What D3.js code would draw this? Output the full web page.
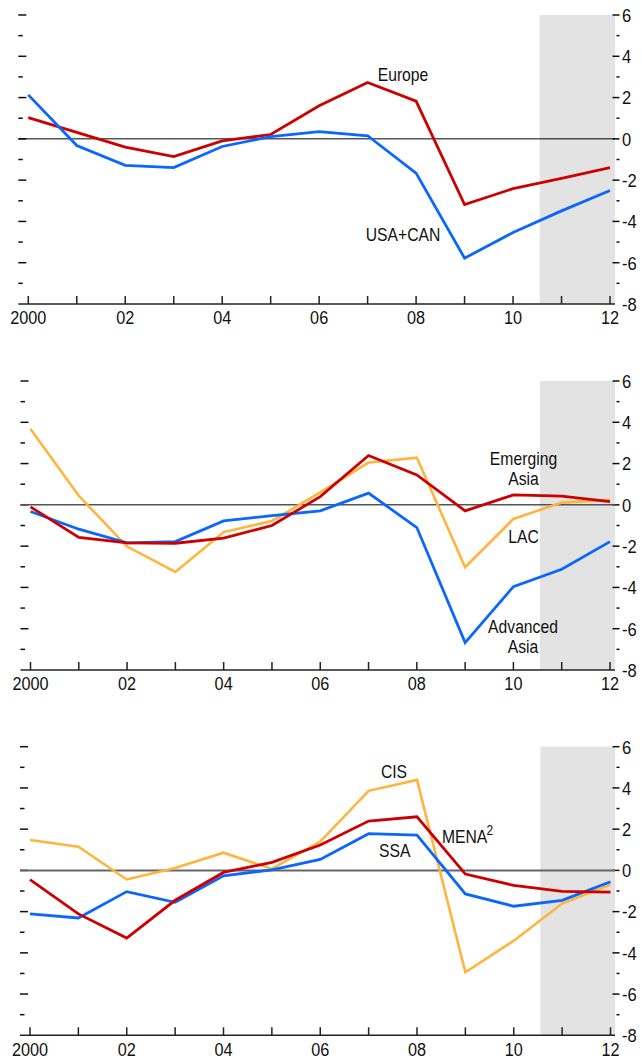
<!DOCTYPE html>
<html><head><meta charset="utf-8">
<script src="https://cdn.jsdelivr.net/npm/d3@7"></script>
<style>
html,body{margin:0;padding:0;background:#fff;}
svg{display:block;}
text{font-family:"Liberation Sans Narrow","Arial Narrow","Liberation Sans",Arial,sans-serif;fill:#111;}
</style></head>
<body>
<svg id="chart" width="642" height="1059"></svg>
<script>
const years = [2000,2001,2002,2003,2004,2005,2006,2007,2008,2009,2010,2011,2012];
const xTickLabels = ["2000","02","04","06","08","10","12"];
const yTickValues = [6,4,2,0,-2,-4,-6,-8];

// Panel 1
const europe = [1.03,0.31,-0.40,-0.86,-0.10,0.21,1.60,2.73,1.83,-3.18,-2.41,-1.92,-1.39];
const usaCan = [2.13,-0.32,-1.28,-1.39,-0.37,0.11,0.35,0.15,-1.66,-5.78,-4.54,-3.49,-2.50];
// Panel 2
const emergingAsia = [-0.10,-1.58,-1.84,-1.86,-1.61,-1.00,0.40,2.39,1.45,-0.29,0.48,0.42,0.16];
const lac = [3.68,0.44,-2.02,-3.25,-1.32,-0.78,0.60,2.05,2.29,-3.02,-0.68,0.11,0.24];
const advancedAsia = [-0.32,-1.18,-1.84,-1.78,-0.78,-0.52,-0.29,0.57,-1.10,-6.67,-3.96,-3.12,-1.78];
// Panel 3
const cis = [1.47,1.15,-0.44,0.12,0.86,0.07,1.40,3.86,4.39,-4.94,-3.41,-1.61,-0.69];
const mena = [-0.45,-2.11,-3.28,-1.45,-0.10,0.39,1.23,2.39,2.60,-0.18,-0.73,-1.02,-1.05];
const ssa = [-2.11,-2.31,-1.03,-1.55,-0.26,0.03,0.53,1.78,1.71,-1.14,-1.74,-1.45,-0.55];

const forecastStart = 2010.55;

const RED = "#CC0000", BLUE = "#0A66FF", ORANGE = "#FFB43C";

const panels = [
  { top: 15, bottom: 304, x0: 28.3, x1: 610, zeroColor: "#000", zeroWidth: 1,
    series: [ {v: europe, c: RED, w: 2.8}, {v: usaCan, c: BLUE, w: 2.8} ],
    labels: [
      {lines:["Europe"], x: 403, y: 81},
      {lines:["USA+CAN"], x: 403, y: 241}
    ]},
  { top: 381, bottom: 670, x0: 30.5, x1: 610, zeroColor: "#555", zeroWidth: 1.5,
    series: [ {v: lac, c: ORANGE, w: 2.6}, {v: advancedAsia, c: BLUE, w: 2.8}, {v: emergingAsia, c: RED, w: 2.8} ],
    labels: [
      {lines:["Emerging","Asia"], x: 523.5, y: 465},
      {lines:["LAC"], x: 523.5, y: 542.7},
      {lines:["Advanced","Asia"], x: 523, y: 633.3}
    ]},
  { top: 746.7, bottom: 1035.3, x0: 30, x1: 610.5, zeroColor: "#666", zeroWidth: 2,
    series: [ {v: cis, c: ORANGE, w: 2.6}, {v: ssa, c: BLUE, w: 2.8}, {v: mena, c: RED, w: 2.8} ],
    labels: [
      {lines:["CIS"], x: 394, y: 778.3},
      {lines:["SSA"], x: 394.7, y: 856.7},
      {lines:["MENA"], x: 467.5, y: 843.3, sup: "2"}
    ]}
];

const svg = d3.select("#chart");

// condensed text helper (horizontal squeeze of a regular sans face)
function ctext(sel, x, y, s, size, anchor) {
  return sel.append("text")
    .attr("transform", `translate(${x},${y}) scale(${s},1)`)
    .attr("text-anchor", anchor)
    .attr("font-size", size);
}

panels.forEach(p => {
  const x = d3.scaleLinear().domain([2000, 2012]).range([p.x0, p.x1]);
  const y = d3.scaleLinear().domain([-8, 6]).range([p.bottom, p.top]);
  const g = svg.append("g");
  const axisLeft = p.x0 - 10;
  const axisRight = 615;

  // forecast shading
  g.append("rect")
    .attr("x", x(forecastStart)).attr("y", y(6))
    .attr("width", axisRight - x(forecastStart)).attr("height", y(-8) - y(6))
    .attr("fill", "#E3E3E3");

  // left minor ticks (no labels)
  const leftTicks = d3.range(-7, 7);
  g.selectAll(".lt").data(leftTicks).join("line")
    .attr("x1", axisLeft).attr("x2", d => axisLeft + (d % 2 === 0 ? 8 : 4.5))
    .attr("y1", d => y(d)).attr("y2", d => y(d))
    .attr("stroke", "#111").attr("stroke-width", 1.5);

  // right axis ticks & labels
  const rightTicks = d3.range(-7, 7);
  g.selectAll(".rt").data(rightTicks).join("line")
    .attr("x1", d => 619.5 - (d % 2 === 0 ? 7 : 3)).attr("x2", 619.5)
    .attr("y1", d => y(d)).attr("y2", d => y(d))
    .attr("stroke", "#111").attr("stroke-width", 1.5);
  yTickValues.forEach(v => {
    ctext(g, 622, y(v) + 6.8, 0.92, 18, "start").text(v);
  });

  // zero line
  g.append("line")
    .attr("x1", axisLeft).attr("x2", axisRight)
    .attr("y1", y(0)).attr("y2", y(0))
    .attr("stroke", p.zeroColor).attr("stroke-width", p.zeroWidth);

  // x axis
  g.append("line")
    .attr("x1", axisLeft).attr("x2", axisRight)
    .attr("y1", y(-8)).attr("y2", y(-8))
    .attr("stroke", "#222").attr("stroke-width", 1.5);
  g.selectAll(".xt").data(years).join("line")
    .attr("x1", d => x(d)).attr("x2", d => x(d))
    .attr("y1", y(-8)).attr("y2", y(-8) - 8)
    .attr("stroke", "#222").attr("stroke-width", 1.5);
  const labYears = years.filter(d => d % 2 === 0);
  labYears.forEach((d, i) => {
    ctext(g, x(d), y(-8) + 20.3, 0.93, 17.5, "middle").text(xTickLabels[i]);
  });

  // series lines
  const line = d3.line().x((d, i) => x(years[i])).y(d => y(d));
  p.series.forEach(s => {
    g.append("path").datum(s.v)
      .attr("d", line)
      .attr("fill", "none")
      .attr("stroke", s.c)
      .attr("stroke-width", s.w)
      .attr("stroke-linejoin", "miter");
  });

  // labels
  p.labels.forEach(l => {
    const t = ctext(g, l.x, l.y, 0.85, 18.5, "middle");
    l.lines.forEach((ln, i) => {
      t.append("tspan").attr("x", 0).attr("y", i * 20).text(ln);
    });
    if (l.sup) {
      t.append("tspan").attr("dy", -8).attr("dx", -1).attr("font-size", 14).text(l.sup);
    }
  });
});
</script>
</body></html>
